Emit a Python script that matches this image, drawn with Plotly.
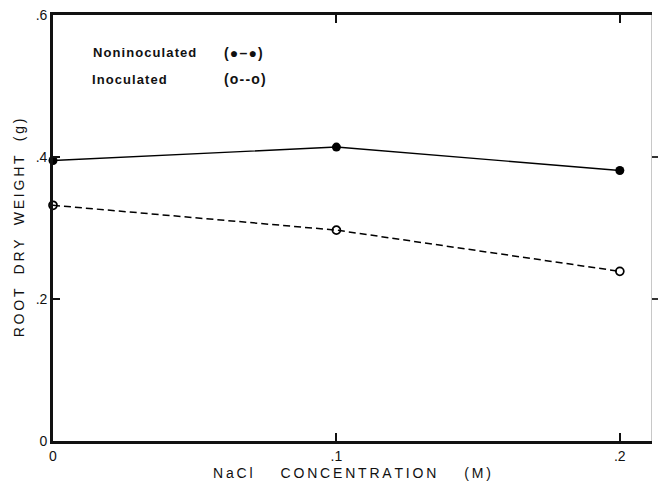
import plotly.graph_objects as go

nacl = [0.0, 0.1, 0.2]
noninoculated = [0.395, 0.414, 0.381]
inoculated = [0.332, 0.297, 0.239]
x_ticks = [0.0, 0.1, 0.2]
x_labels = ["0", ".1", ".2"]
y_ticks = [0.0, 0.2, 0.4, 0.6]
y_labels = ["0", ".2", ".4", ".6"]

W, H = 661, 483
L, R, T, B = 53, 4, 15, 38
pw, ph = W - L - R, H - T - B

def px(xp):
    return (xp - L) / pw

def py(yp):
    return (H - B - yp) / ph

def spaced(s, sep="\u2009"):
    return sep.join(s)

GAP = "\u2002\u2002"
fnt = "Liberation Sans, Arial, sans-serif"

fig = go.Figure()
fig.add_trace(go.Scatter(x=nacl, y=noninoculated, mode="lines+markers",
                         line=dict(color="black", width=1.4),
                         marker=dict(symbol="circle", size=9, color="black"),
                         showlegend=False, cliponaxis=False))
fig.add_trace(go.Scatter(x=nacl, y=inoculated, mode="lines+markers",
                         line=dict(color="black", width=1.5, dash="7px,4px"),
                         marker=dict(symbol="circle-open", size=8, color="black",
                                     line=dict(width=1.7, color="black")),
                         showlegend=False, cliponaxis=False, yaxis="y2"))

xtitle = spaced("NaCl") + GAP + GAP + spaced("CONCENTRATION") + GAP + GAP + spaced("(M)")
ytitle = spaced("ROOT") + GAP + spaced("DRY") + GAP + spaced("WEIGHT") + GAP + spaced("(g)")

fig.update_layout(
    width=W, height=H,
    margin=dict(l=L, r=R, t=T, b=B),
    paper_bgcolor="white", plot_bgcolor="white",
    font=dict(family=fnt, color="#111", size=12),
    xaxis=dict(range=[0, 0.211], tickvals=x_ticks, ticktext=x_labels,
               showgrid=False, zeroline=False, showline=True, linecolor="#111",
               linewidth=2.6, mirror="ticks", ticks="inside", ticklen=8,
               tickwidth=2, tickcolor="#111", tickfont=dict(size=14),
               title=dict(text=xtitle, font=dict(size=14), standoff=6)),
    yaxis=dict(range=[0, 0.6], tickvals=y_ticks, ticktext=y_labels,
               showgrid=False, zeroline=False, showline=True, linecolor="#111",
               linewidth=2.6, ticks="inside", ticklen=7, tickwidth=2,
               tickcolor="#111", tickfont=dict(size=14),
               title=dict(text=ytitle, font=dict(size=14), standoff=8)),
    yaxis2=dict(range=[0, 0.6], overlaying="y", side="right", tickvals=[0.2, 0.4],
                showticklabels=False, showgrid=False, zeroline=False,
                showline=True, linecolor="#c8c8c8", linewidth=1,
                ticks="outside", ticklen=6, tickwidth=1.5, tickcolor="#333"),
)

anns = [
    (spaced("Noninoculated", "\u200a"), 91, 53, 13),
    (spaced("(\u25cf\u2013\u25cf)", "\u200a"), 224, 53, 14),
    (spaced("Inoculated", "\u200a"), 90, 80, 13),
    (spaced("(o--o)", "\u200a"), 224, 80, 14),
]
for txt, xp, yp, fs in anns:
    fig.add_annotation(x=px(xp), y=py(yp), xref="paper", yref="paper",
                       text="<b>" + txt + "</b>", showarrow=False,
                       xanchor="left", yanchor="middle",
                       font=dict(size=fs, family=fnt, color="#111"))

fig.write_html("out.html")
